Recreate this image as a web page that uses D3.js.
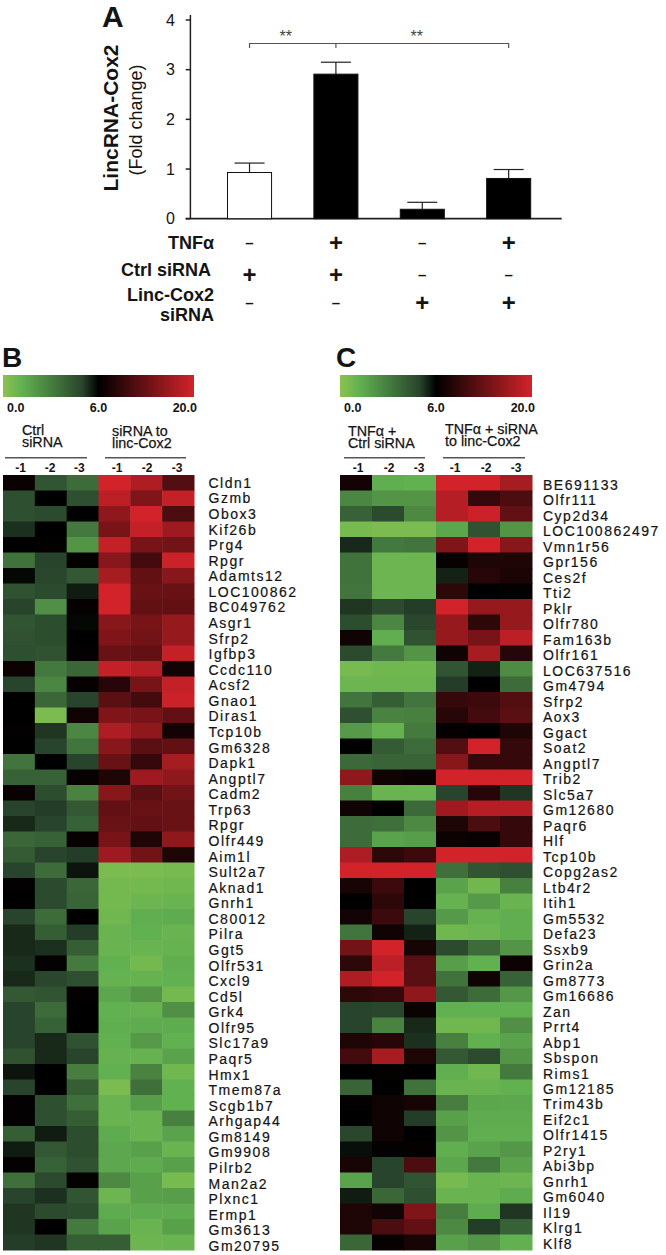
<!DOCTYPE html>
<html>

<head>
    <meta charset="UTF-8">
    <title>LincRNA-Cox2</title>
    <style>
        body {
            margin: 0;
            background: #fff;
        }

        svg {
            display: block;
        }

        text {
            font-family: "Liberation Sans", Arial, sans-serif;
            fill: #141414;
        }

        .bold {
            font-weight: bold;
        }

        .gene {
            font-size: 14px;
            letter-spacing: 1.5px;
            stroke: #141414;
            stroke-width: .2px;
        }
    </style>
    <script src="https://d3js.org/d3.v7.min.js"></script>
</head>

<body>
    <script type="text/javascript">
        // panel A
        const groups = ["g1", "g2", "g3", "g4"]
        const foldChange = [0.93, 2.91, 0.19, 0.81]
        const foldError = [0.19, 0.24, 0.14, 0.18]
        const barFills = ["#fff", "#000", "#000", "#000"]
        const tnfSigns = ["–", "+", "–", "+"]
        const ctrlSigns = ["+", "+", "–", "–"]
        const lincSigns = ["–", "–", "+", "+"]

        // panel B
        const genesB = ["Cldn1", "Gzmb", "Obox3", "Kif26b", "Prg4", "Rpgr", "Adamts12", "LOC100862", "BC049762", "Asgr1",
            "Sfrp2", "Igfbp3", "Ccdc110", "Acsf2", "Gnao1", "Diras1", "Tcp10b", "Gm6328", "Dapk1", "Angptl7",
            "Cadm2", "Trp63", "Rpgr", "Olfr449", "Aim1l", "Sult2a7", "Aknad1", "Gnrh1", "C80012", "Pilra",
            "Ggt5", "Olfr531", "Cxcl9", "Cd5l", "Grk4", "Olfr95", "Slc17a9", "Paqr5", "Hmx1", "Tmem87a",
            "Scgb1b7", "Arhgap44", "Gm8149", "Gm9908", "Pilrb2", "Man2a2", "Plxnc1", "Ermp1", "Gm3613", "Gm20795"]
        const heatB = [
            [6.6, 4.4, 3.6, 20, 17.5, 11.5], [4.6, 6.1, 4.6, 18.5, 14.5, 19], [4.6, 4.8, 6.1, 15.5, 20, 11],
            [5.3, 6, 3.2, 14, 19, 16.5], [6, 6.3, 2.2, 19, 14, 13.5], [3.4, 5, 6.3, 15, 10.5, 19.5],
            [5.9, 4.9, 4.3, 17, 12.5, 15], [4.5, 4.8, 5.6, 20, 13, 13], [5, 2.4, 6.4, 20, 12.5, 12.5],
            [4.4, 4.7, 5.9, 15, 14, 16], [4.5, 4.7, 6, 14.5, 13.5, 16], [4.6, 4.5, 6.2, 13, 12.5, 19],
            [6.8, 3.2, 3.8, 19, 18, 7.2], [5, 2.7, 6.4, 8.5, 14, 19], [6, 3.8, 5, 12, 10.5, 19.5],
            [6.1, 0.5, 7, 14.5, 14, 12.5], [6.2, 5.2, 2.7, 17.5, 15.5, 7.3], [6.1, 5, 3.3, 15, 12, 12.5],
            [3.3, 6, 5, 13, 9.5, 17], [4, 4, 6.5, 8, 16.5, 15.5], [6.6, 4.7, 2.8, 15, 12, 13.5],
            [5, 5.1, 4.3, 12.5, 13, 13], [5.4, 5, 4, 13, 12.5, 13], [3.8, 4, 6.5, 14, 8, 15.5],
            [4.2, 5, 5.1, 16.5, 13.5, 8], [5, 3.6, 5.7, 0.5, 0.5, 0.6], [6.2, 4.8, 3.8, 0.7, 0.7, 0.8],
            [6, 4.8, 3.9, 0.7, 0.9, 1], [5, 3.6, 6.1, 0.8, 1.3, 1.4], [5.4, 4.1, 5.1, 1, 1.2, 1],
            [5.4, 5.3, 4.1, 1, 1, 1.1], [5.3, 6.2, 3.1, 1.2, 0.7, 1.3], [5.4, 4.9, 4.6, 1.1, 1.1, 1.2],
            [4.3, 4.4, 6.2, 1.6, 2.2, 0.7], [5, 3.6, 6, 1.2, 1.1, 2.4], [5, 4, 6, 1.3, 1.4, 1.4],
            [5, 5.4, 4.5, 1.2, 2, 1.2], [4.5, 5.4, 5, 1.1, 1.1, 1.7], [5.7, 6, 3, 1.2, 2.8, 0.8],
            [5, 6, 4.1, 0.5, 3.5, 1.2], [6.2, 4.6, 3.5, 1, 1.9, 1.2], [6.2, 4.6, 4.1, 1, 1, 2.9],
            [4.1, 5.6, 4.7, 1.4, 1, 1.7], [5.6, 4.3, 4.7, 1.5, 1.8, 1], [6.2, 4, 4.5, 1.5, 1.4, 1.8],
            [3.5, 4.8, 6.3, 2.6, 1.8, 0.6], [5, 5.3, 4.4, 0.9, 1.8, 1.9], [5.2, 4.8, 4.7, 1.4, 1.4, 1.4],
            [5.2, 6, 3.1, 1.7, 1, 1.8], [5.1, 5.2, 4.1, 4.1, 0.9, 1]
        ]

        // panel C
        const genesC = ["BE691133", "Olfr111", "Cyp2d34", "LOC100862497", "Vmn1r56", "Gpr156", "Ces2f", "Tti2", "Pklr", "Olfr780",
            "Fam163b", "Olfr161", "LOC637516", "Gm4794", "Sfrp2", "Aox3", "Ggact", "Soat2", "Angptl7", "Trib2",
            "Slc5a7", "Gm12680", "Paqr6", "Hlf", "Tcp10b", "Copg2as2", "Ltb4r2", "Itih1", "Gm5532", "Defa23",
            "Ssxb9", "Grin2a", "Gm8773", "Gm16686", "Zan", "Prrt4", "Abp1", "Sbspon", "Rims1", "Gm12185",
            "Trim43b", "Eif2c1", "Olfr1415", "P2ry1", "Abi3bp", "Gnrh1", "Gm6040", "Il19", "Klrg1", "Klf8"]
        const heatC = [
            [7.3, 1.3, 1.2, 20, 20, 17], [2.7, 2.2, 2.2, 18, 9.5, 11], [4, 4.8, 2.6, 18, 19.5, 12.5],
            [0.6, 0.5, 0.5, 1.6, 4.5, 2.2], [5.4, 3.2, 3.3, 14.5, 20, 15], [3.4, 0.9, 0.9, 6.5, 8, 8],
            [3.4, 0.9, 0.9, 5.5, 8.5, 7.7], [3.3, 0.9, 0.9, 9, 6, 6.3], [5.2, 4.8, 5.1, 20, 16, 16],
            [4.7, 2.7, 4.9, 16, 9, 16], [7, 1.3, 4.5, 16, 14, 18.5], [4.8, 3.1, 2.2, 7, 17, 8.5],
            [0.6, 0.8, 0.8, 4.4, 5.5, 2.5], [0.9, 0.9, 0.9, 5.1, 6, 3.6], [3.3, 4.1, 3.3, 9.5, 10, 11.5],
            [4.6, 2.8, 2.9, 8.5, 10.5, 12], [2, 1.1, 3.1, 6.4, 6.1, 8], [6.1, 4.2, 3.6, 11.5, 20, 9.5],
            [3.7, 3.9, 3.9, 15, 9.5, 9.5], [15.5, 7, 6.6, 20, 20, 20], [2.9, 1, 1, 5, 8.5, 5.2],
            [7, 6, 3.7, 16.5, 18, 18], [3.6, 3.5, 2.6, 8, 11, 9.5], [3.6, 1.7, 1.9, 6.8, 6.6, 9.5],
            [17.5, 9, 10, 20, 20, 20], [20, 20, 20, 3.5, 4.4, 4.6], [7.5, 10, 6.1, 1.7, 0.8, 2.9],
            [6, 9, 6, 1.1, 2, 1], [7.2, 10, 5, 2, 1.1, 1.3], [3.3, 7, 5.5, 0.8, 0.9, 1.3],
            [13.5, 20, 7.5, 4.8, 3.6, 2.2], [9, 18.5, 12, 1.9, 1.2, 6.8], [17.5, 20, 12, 3.4, 7, 4],
            [9, 9.5, 15.5, 4.3, 3.6, 2.1], [5, 4.9, 6.7, 1.2, 1.2, 1.2], [5, 2.8, 5.4, 0.8, 0.8, 2.4],
            [8, 8.5, 5.3, 2.9, 1.2, 1.7], [10.5, 17, 8, 4.3, 4.8, 2.2], [6, 6.3, 6.1, 1.3, 0.8, 3.1],
            [3.9, 6, 3.4, 1, 1, 1.2], [6.3, 7, 7.5, 3, 1.6, 1.5], [6, 7, 5.1, 1.8, 1.4, 1.4],
            [4.9, 7, 6.1, 2.2, 1.3, 1.3], [5.8, 6.2, 6.4, 1.3, 1.7, 2.1], [7.5, 5, 11, 1.6, 3.2, 1.7],
            [1.7, 5, 4.4, 0.6, 1, 0.9], [5.6, 3.8, 4.6, 1, 1, 1.4], [8, 7.2, 14.5, 3, 1.4, 5.2],
            [8, 11, 12.5, 2.6, 5.1, 4], [3.8, 6.5, 7.5, 1.8, 2.2, 1.2]
        ]

        const samples = ["-1", "-2", "-3", "-1 ", "-2 ", "-3 "]
        const colorStops = [0, 1.2, 5, 6, 20]
        const colorValues = ["#8cc24f", "#62b151", "#28442c", "#000000", "#d2232a"]
        const scaleLabels = ["0.0", "6.0", "20.0"]

        const color = d3.scaleLinear().domain(colorStops).range(colorValues)
        // the legend bar puts 6.0 in the middle
        const barPos = d3.scaleLinear().domain([0, 6, 20]).range([0, .5, 1])

        const svg = d3.select("body").append("svg")
            .attr("width", 666)
            .attr("height", 1255)

        /* ---------- A ---------- */
        const y = d3.scaleLinear().domain([0, 4]).range([218.7, 20])
        const x = d3.scaleBand().domain(groups).range([227.5, 530.7]).paddingInner(0.49).paddingOuter(0)
        const cx = d => x(d) + x.bandwidth() / 2

        const axisA = svg.append("g")
        axisA.append("line").attr("x1", 185.7).attr("x2", 561.7).attr("y1", y(0)).attr("y2", y(0))
            .attr("stroke", "#222").attr("stroke-width", 1.7)
        axisA.append("line").attr("x1", 190.4).attr("x2", 190.4).attr("y1", y(0)).attr("y2", 15)
            .attr("stroke", "#222").attr("stroke-width", 1.5)

        const ticks = axisA.selectAll(".tick").data(y.ticks(4)).enter().append("g")
            .attr("transform", d => "translate(0," + y(d) + ")")
        ticks.append("line").attr("x1", 185.7).attr("x2", 190.4).attr("stroke", "#222").attr("stroke-width", 1.5)
        ticks.append("text").attr("x", 175).attr("dy", "0.35em").attr("text-anchor", "end")
            .style("font-size", "16px").text(d => d)

        // error bars go behind the columns
        const err = svg.selectAll(".err").data(groups).enter().append("g")
        err.append("line")
            .attr("x1", cx).attr("x2", cx)
            .attr("y1", (d, i) => y(foldChange[i])).attr("y2", (d, i) => y(foldChange[i] + foldError[i]))
            .attr("stroke", "#222").attr("stroke-width", 1.2)
        err.append("line")
            .attr("x1", d => cx(d) - 15).attr("x2", d => cx(d) + 15)
            .attr("y1", (d, i) => y(foldChange[i] + foldError[i])).attr("y2", (d, i) => y(foldChange[i] + foldError[i]))
            .attr("stroke", "#222").attr("stroke-width", 1.2)

        svg.selectAll(".bar").data(groups).enter().append("rect")
            .attr("x", d => x(d))
            .attr("y", (d, i) => y(foldChange[i]))
            .attr("width", x.bandwidth())
            .attr("height", (d, i) => y(0) - y(foldChange[i]))
            .attr("fill", (d, i) => barFills[i])
            .attr("stroke", "#111")
            .attr("stroke-width", 1)

        // significance bracket
        const bracket = svg.append("g").attr("stroke", "#555").attr("stroke-width", 1.2).attr("fill", "none")
        bracket.append("path")
            .attr("d", "M" + cx("g1") + ",48V43.5H" + cx("g4") + "V48M" + cx("g2") + ",43.5V48")
        svg.append("text").attr("x", 285.7).attr("y", 42).attr("text-anchor", "middle")
            .style("font-size", "16px").style("fill", "#444").text("**")
        svg.append("text").attr("x", 416.8).attr("y", 42).attr("text-anchor", "middle")
            .style("font-size", "16px").style("fill", "#444").text("**")

        svg.append("text").attr("class", "bold").attr("x", 102).attr("y", 27).style("font-size", "30px").text("A")
        svg.append("text").attr("class", "bold")
            .attr("transform", "translate(118,118) rotate(-90)").attr("text-anchor", "middle")
            .style("font-size", "21px").text("LincRNA-Cox2")
        svg.append("text")
            .attr("transform", "translate(142,120) rotate(-90)").attr("text-anchor", "middle")
            .style("font-size", "18px").text("(Fold change)")

        function signRow(signs, rowY) {
            svg.selectAll(null).data(signs).enter().append("text")
                .attr("class", "bold")
                .attr("x", (d, i) => cx(groups[i]))
                .attr("y", rowY)
                .attr("text-anchor", "middle")
                .attr("dy", "0.35em")
                .style("font-size", d => d == "+" ? "24px" : "15px")
                .text(d => d)
        }
        signRow(tnfSigns, 243)
        signRow(ctrlSigns, 275)
        signRow(lincSigns, 303)

        function rowLabel(label, endX, rowY) {
            svg.append("text").attr("class", "bold")
                .attr("x", endX).attr("y", rowY).attr("dy", "0.35em").attr("text-anchor", "end")
                .style("font-size", "18px").text(label)
        }
        rowLabel("TNFα", 214, 243)
        rowLabel("Ctrl siRNA", 211, 270)
        rowLabel("Linc-Cox2", 214, 295)
        rowLabel("siRNA", 214, 315)

        /* ---------- heat maps ---------- */
        function heatmap(opt) {
            const g = svg.append("g")

            g.append("text").attr("class", "bold").attr("x", opt.letterX).attr("y", 367)
                .style("font-size", "28px").text(opt.id)

            // legend bar
            const grad = svg.append("defs").append("linearGradient").attr("id", "grad" + opt.id)
            grad.selectAll("stop").data(colorStops).enter().append("stop")
                .attr("offset", d => barPos(d))
                .attr("stop-color", d => color(d))
            g.append("rect").attr("x", opt.left).attr("y", 375).attr("width", opt.right - opt.left).attr("height", 22)
                .attr("fill", "url(#grad" + opt.id + ")")

            const anchors = ["start", "middle", "end"]
            const labelX = [opt.left + 4, (opt.left + opt.right) / 2, opt.right + 3]
            g.selectAll(".lab").data(scaleLabels).enter().append("text")
                .attr("class", "bold")
                .attr("x", (d, i) => labelX[i]).attr("y", 412)
                .attr("text-anchor", (d, i) => anchors[i])
                .style("font-size", "12.5px").text(d => d)

            // group headers, two tight lines each
            opt.headers.forEach(h => {
                const t = g.append("text").attr("y", h[1])
                    .style("font-size", "14.3px").style("stroke", "#141414").style("stroke-width", ".25px")
                t.append("tspan").attr("x", h[0]).text(h[2])
                t.append("tspan").attr("x", h[0]).attr("dy", 12).text(h[3])
            })
            opt.rules.forEach(r => {
                g.append("line").attr("x1", r[0]).attr("x2", r[1]).attr("y1", 457.7).attr("y2", 457.7)
                    .attr("stroke", "#555").attr("stroke-width", 1.6)
            })

            const xCol = d3.scaleBand().domain(samples).range([opt.left, opt.right])
            const yRow = d3.scaleBand().domain(d3.range(opt.genes.length)).range([475, opt.bottom])
            // gene names run on a slightly looser step than the rows
            const yLabel = d3.scalePoint().domain(d3.range(opt.genes.length)).range(opt.labelRange)

            g.selectAll(".sample").data(samples).enter().append("text")
                .attr("class", "bold")
                .attr("x", (d, i) => opt.tickX[i]).attr("y", 472)
                .attr("text-anchor", "middle")
                .style("font-size", "12px").text(d => d.trim())

            const rows = g.selectAll(".row").data(opt.values).enter().append("g")
                .attr("transform", (d, i) => "translate(0," + yRow(i) + ")")
            rows.selectAll("rect").data(d => d).enter().append("rect")
                .attr("x", (d, i) => xCol(samples[i]))
                .attr("width", xCol.bandwidth() + .5)
                .attr("height", yRow.bandwidth() + .5)
                .attr("fill", d => color(d))

            g.selectAll(".gene").data(opt.genes).enter().append("text")
                .attr("class", "gene")
                .attr("x", opt.labelX)
                .attr("y", (d, i) => yLabel(i))
                .attr("dy", "0.35em")
                .text(d => d)
        }

        heatmap({
            id: "B", genes: genesB, values: heatB, left: 3, right: 194, bottom: 1250, letterX: 2,
            labelX: 208.5, labelRange: [483, 1246],
            tickX: [20.7, 50, 79.3, 117, 147, 177],
            rules: [[5, 87], [105, 186]],
            headers: [[22, 435, "Ctrl", "siRNA"], [112, 436, "siRNA to", "linc-Cox2"]]
        })
        heatmap({
            id: "C", genes: genesC, values: heatC, left: 340, right: 532, bottom: 1250, letterX: 336,
            labelX: 543, labelRange: [485, 1244],
            tickX: [358, 389, 419, 455, 486, 516],
            rules: [[344, 425], [443, 525]],
            headers: [[348, 436, "TNFα +", "Ctrl siRNA"], [445, 434, "TNFα + siRNA", "to linc-Cox2"]]
        })
    </script>
</body>

</html>
